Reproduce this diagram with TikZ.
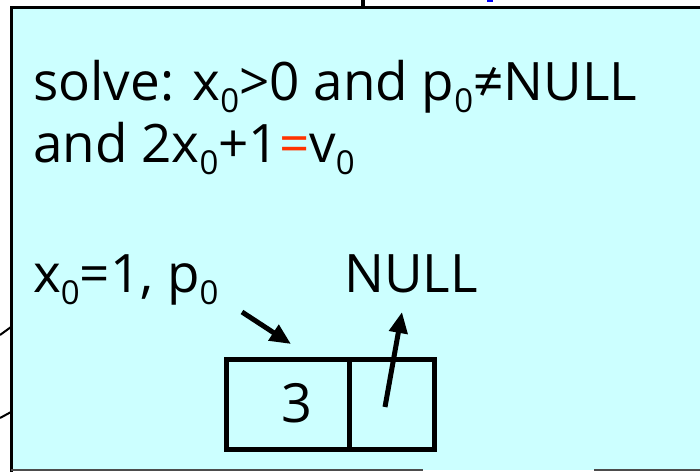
\documentclass[tikz,border=0pt]{standalone}
\usepackage{fontspec}
\setmainfont{Open Sans}
\usetikzlibrary{arrows.meta}
\definecolor{boxcyan}{HTML}{CCFFFF}
\definecolor{eqred}{HTML}{FF3300}
\newcommand{\sbz}[1]{\raisebox{-12pt}{\fontsize{33}{33}\selectfont #1}}
\tikzset{
  lbl/.style={anchor=base west, inner sep=0pt, font=\fontsize{53}{53}\selectfont},
  cell/.style={draw, line width=5pt, minimum height=90pt, inner sep=0pt},
  ptr/.style={line width=5pt, -{Triangle[length=21pt,width=18pt]}}
}
\begin{document}
\begin{tikzpicture}[x=1pt,y=-1pt]
\useasboundingbox (0,0) rectangle (700,471);
% background pieces behind the box
\draw[line width=3.5pt] (363,0) -- (363,8);
\fill[blue] (487,0) rectangle (493,2);
\draw[line width=2pt] (0,335) -- (11,327);
\draw[line width=2pt] (0,418) -- (11,412);
% main box
\fill[boxcyan] (11,7.5) rectangle (705,470);
\draw[line width=3pt] (11,475) -- (11,7.5) -- (705,7.5);
\draw[line width=1.5pt, black!70] (11,470) -- (423,470);
\draw[line width=1.5pt, black!70] (594,470) -- (705,470);
% texts
\node[lbl] (l1) at (33,100) {solve: x\sbz{0}>0 and p\sbz{0}≠NULL};
\node[lbl] (l2) at (33,162) {and 2x\sbz{0}+1\textcolor{eqred}{=}v\sbz{0}};
\node[lbl] (l3) at (33,292) {x\sbz{0}=1, p\sbz{0}};
\node[lbl] (null) at (344,292) {NULL};
% list cell
\node[cell, minimum width=123pt] (c1) at (287.5,404) {};
\node[cell, minimum width=85pt] (c2) at (391.5,404) {};
\node[inner sep=0pt, font=\fontsize{54}{54}\selectfont] (three) at (297,403) {3};
% pointers
\coordinate (p0s) at (242,312);
\coordinate (p0e) at (291,344);
\coordinate (nxs) at (385,407);
\coordinate (nxe) at (402,312);
\draw[ptr] (p0s) -- (p0e);
\draw[ptr] (nxs) -- (nxe);
\end{tikzpicture}
\end{document}
